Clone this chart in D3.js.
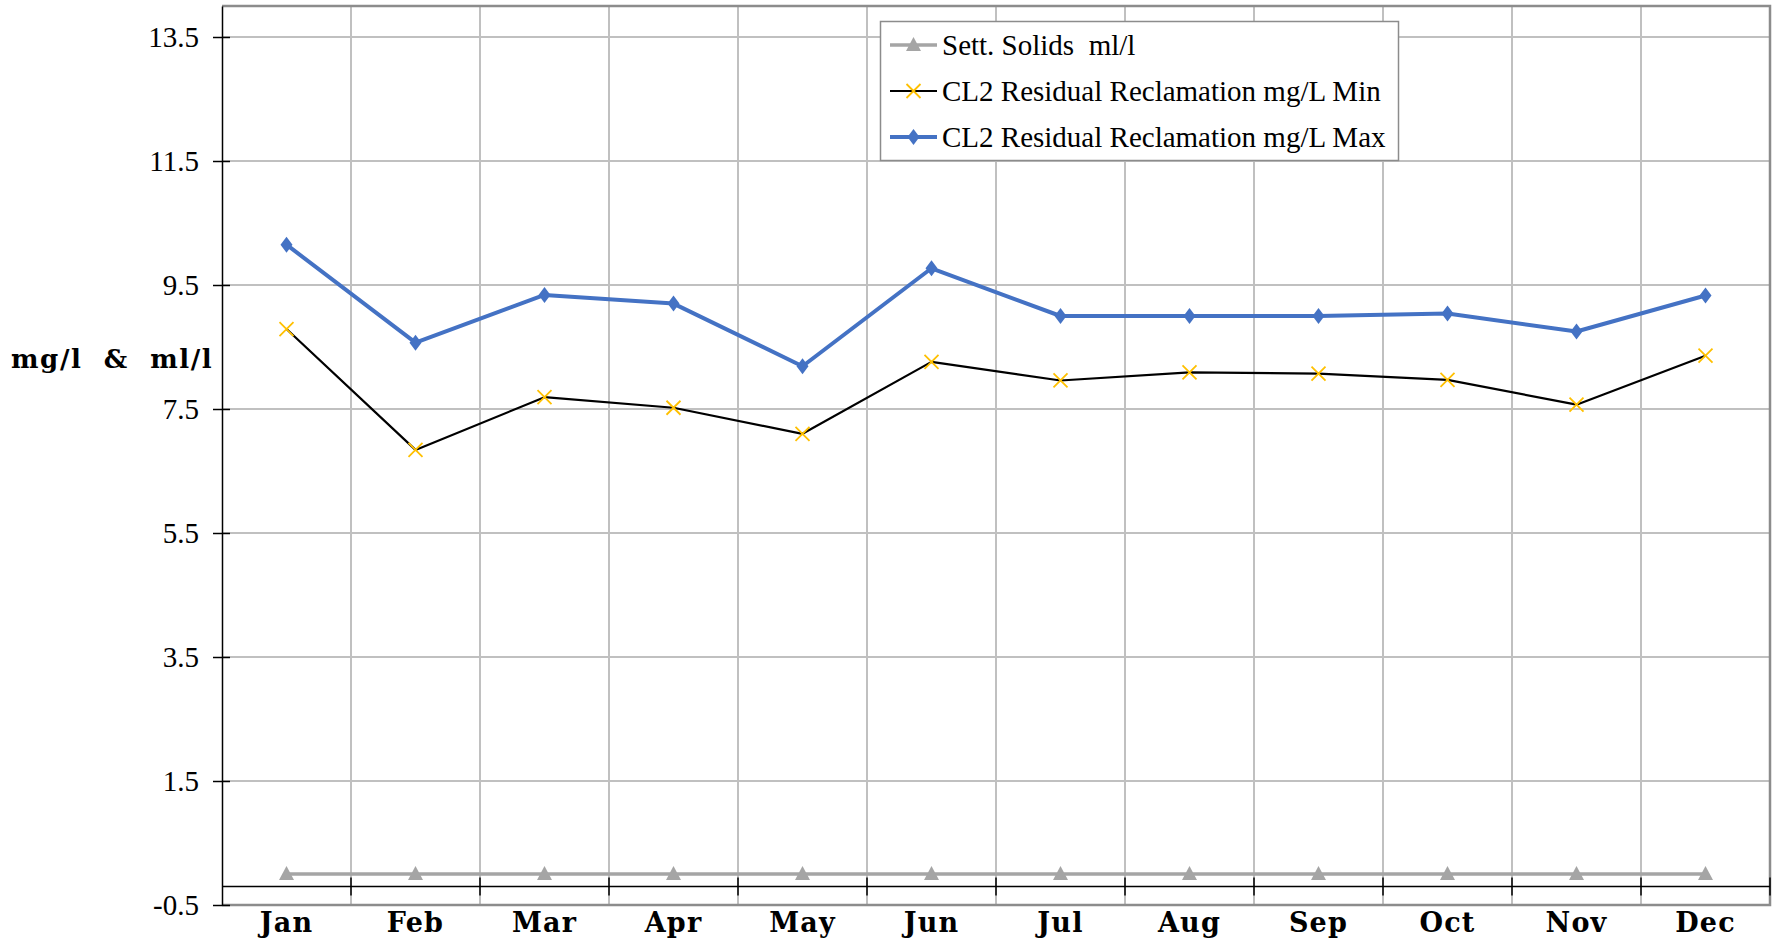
<!DOCTYPE html>
<html>
<head>
<meta charset="utf-8">
<script src="https://cdn.jsdelivr.net/npm/d3@7"></script>
<style>
  body { margin: 0; background: #fff; }
  svg { display: block; }
</style>
</head>
<body>
<svg id="drawing_region"></svg>
<script>
const months = ["Jan","Feb","Mar","Apr","May","Jun","Jul","Aug","Sep","Oct","Nov","Dec"];
const settSolids = [0,0,0,0,0,0,0,0,0,0,0,0];
const cl2Min = [8.79,6.84,7.69,7.52,7.10,8.26,7.96,8.09,8.07,7.97,7.57,8.36];
const cl2Max = [10.15,8.57,9.34,9.20,8.19,9.77,9.0,9.0,9.0,9.04,8.75,9.33];
const yTicks = [-0.5,1.5,3.5,5.5,7.5,9.5,11.5,13.5];
const yDomain = [-0.5, 14];
const xAxisCross = -0.2;

const seriesNames = ["Sett. Solids  ml/l", "CL2 Residual Reclamation mg/L Min", "CL2 Residual Reclamation mg/L Max"];

const config = {
    width: 1775,
    height: 942,
    margin: {top:6, right:5, bottom:37, left:222}
};

const svg = d3.select('#drawing_region')
    .attr('width', config.width)
    .attr('height', config.height);

const x0 = config.margin.left;
const x1 = config.width - config.margin.right;
const y0 = config.margin.top;
const y1 = config.height - config.margin.bottom;

const xscale = d3.scaleBand().domain(months).range([x0, x1]).padding(0);
const yscale = d3.scaleLinear().domain(yDomain).range([y1, y0]);
const cx = m => xscale(m) + xscale.bandwidth() / 2;

// gridlines
const grid = svg.append('g');
grid.selectAll('.hgrid')
    .data(yTicks)
    .enter().append('line')
    .attr('x1', x0).attr('x2', x1)
    .attr('y1', d => yscale(d)).attr('y2', d => yscale(d))
    .attr('stroke', '#c0c0c0').attr('stroke-width', 2);
grid.selectAll('.vgrid')
    .data(months.slice(1))
    .enter().append('line')
    .attr('x1', d => xscale(d)).attr('x2', d => xscale(d))
    .attr('y1', y0).attr('y2', y1)
    .attr('stroke', '#c0c0c0').attr('stroke-width', 2);

// plot border
svg.append('path')
    .attr('d', `M${x0},${y0}H${x1}V${y1}H${x0}`)
    .attr('fill', 'none')
    .attr('stroke', '#8c8c8c')
    .attr('stroke-width', 2.5);

// y axis
const yaxis = d3.axisLeft(yscale)
    .tickValues(yTicks)
    .tickFormat(d => d.toFixed(1))
    .tickSizeInner(9)
    .tickSizeOuter(0)
    .tickPadding(14);
const yg = svg.append('g')
    .attr('transform', `translate(${x0},0)`)
    .call(yaxis);
yg.select('.domain').attr('stroke', '#000').attr('stroke-width', 1.5);
yg.selectAll('.tick line').attr('stroke', '#000').attr('stroke-width', 1.5)
    .attr('x2', 8).attr('x1', -9);
yg.selectAll('.tick text')
    .attr('font-family', '"Liberation Serif", "Times New Roman", serif')
    .attr('font-size', '29px')
    .attr('fill', '#000');

// x axis (crossing line)
const yc = yscale(xAxisCross);
svg.append('line')
    .attr('x1', x0).attr('x2', x1)
    .attr('y1', yc).attr('y2', yc)
    .attr('stroke', '#000').attr('stroke-width', 1.5);
svg.selectAll('.xtick')
    .data(months.slice(1).concat(['end']))
    .enter().append('line')
    .attr('x1', d => d === 'end' ? x1 : xscale(d))
    .attr('x2', d => d === 'end' ? x1 : xscale(d))
    .attr('y1', yc - 9).attr('y2', yc + 9)
    .attr('stroke', '#000').attr('stroke-width', 1.5);

svg.selectAll('.xlabel')
    .data(months)
    .enter().append('text')
    .attr('x', d => cx(d))
    .attr('y', 932)
    .attr('text-anchor', 'middle')
    .attr('font-family', '"DejaVu Serif", serif')
    .attr('font-weight', 'bold')
    .attr('font-size', '27px')
    .attr('letter-spacing', '1.2px')
    .text(d => d);

// y title
svg.append('text')
    .attr('x', 11)
    .attr('y', 368)
    .attr('font-family', '"DejaVu Serif", serif')
    .attr('font-weight', 'bold')
    .attr('font-size', '26px')
    .attr('letter-spacing', '1.6px')
    .style('white-space', 'pre')
    .text('mg/l  &  ml/l');

// series
const line = d3.line()
    .x((d, i) => cx(months[i]))
    .y(d => yscale(d));

const series = [
    {name: seriesNames[0], values: settSolids, color: '#a5a5a5', width: 3.5, marker: 'triangle', mcolor: '#a5a5a5'},
    {name: seriesNames[1], values: cl2Min, color: '#000000', width: 2.2, marker: 'x', mcolor: '#ffc000'},
    {name: seriesNames[2], values: cl2Max, color: '#4472c4', width: 4, marker: 'diamond', mcolor: '#4472c4'}
];

function drawMarker(g, type, color, x, y) {
    if (type === 'triangle') {
        g.append('path')
            .attr('d', `M${x},${y-8}L${x+7.5},${y+6}L${x-7.5},${y+6}Z`)
            .attr('fill', color);
    } else if (type === 'diamond') {
        g.append('path')
            .attr('d', `M${x},${y-8}L${x+6},${y}L${x},${y+8}L${x-6},${y}Z`)
            .attr('fill', color);
    } else {
        g.append('path')
            .attr('d', `M${x-7},${y-7}L${x+7},${y+7}M${x+7},${y-7}L${x-7},${y+7}`)
            .attr('stroke', color)
            .attr('stroke-width', 1.8);
    }
}

series.forEach(s => {
    const g = svg.append('g');
    g.append('path')
        .datum(s.values)
        .attr('d', line)
        .attr('fill', 'none')
        .attr('stroke', s.color)
        .attr('stroke-width', s.width)
        .attr('stroke-linejoin', 'round');
    s.values.forEach((v, i) => drawMarker(g, s.marker, s.mcolor, cx(months[i]), yscale(v)));
});

// legend
const legend = svg.append('g');
legend.append('rect')
    .attr('x', 880.5).attr('y', 21.5)
    .attr('width', 518).attr('height', 139)
    .attr('fill', '#fff')
    .attr('stroke', '#8c8c8c')
    .attr('stroke-width', 1.5);
series.forEach((s, i) => {
    const ly = 45 + i * 46;
    legend.append('line')
        .attr('x1', 890).attr('x2', 937)
        .attr('y1', ly).attr('y2', ly)
        .attr('stroke', s.color)
        .attr('stroke-width', s.width);
    drawMarker(legend, s.marker, s.mcolor, 913.5, ly);
    legend.append('text')
        .attr('x', 942)
        .attr('y', ly + 10)
        .attr('font-family', '"Liberation Serif", "Times New Roman", serif')
        .attr('font-size', '29px')
        .style('white-space', 'pre')
        .text(s.name);
});
</script>
</body>
</html>
